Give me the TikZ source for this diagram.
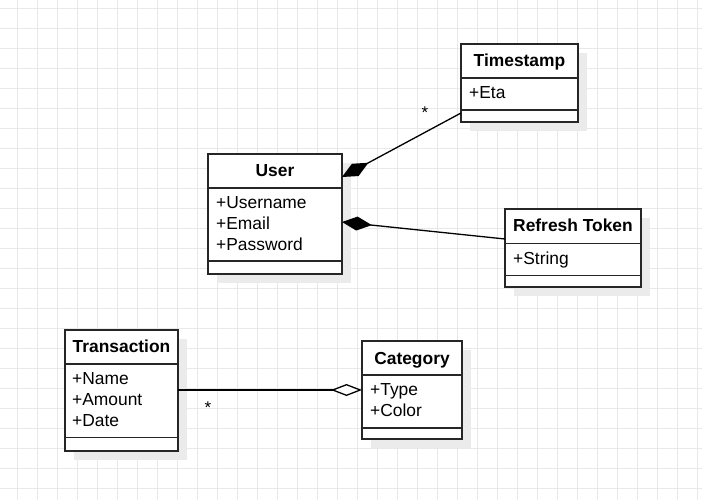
\documentclass[tikz,border=0pt]{standalone}
\usepackage{fontspec}
\setmainfont{Liberation Sans}
\usetikzlibrary{arrows.meta,shadows,calc}
\begin{document}
\begin{tikzpicture}[x=1pt,y=-1pt,
  gridline/.style={draw=black!9, line width=0.9pt},
  classbox/.style={draw=black!85, line width=1.5pt, fill=white, anchor=north west, inner sep=0pt, outer sep=0pt,
    drop shadow={shadow xshift=9pt, shadow yshift=-9pt, fill=black!8, opacity=1}},
  ctitle/.style={font=\fontsize{17.4}{20}\selectfont\bfseries, anchor=base, inner sep=0pt},
  cattr/.style={font=\fontsize{17.4}{20}\selectfont, anchor=base west, inner sep=0pt},
  csep/.style={line width=1.5pt, draw=black!85},
  conn/.style={line width=1.3pt, draw=black},
  mult/.style={font=\fontsize{17}{20}\selectfont, anchor=base, inner sep=0pt},
]
\useasboundingbox (0,0) rectangle (702,500);
\fill[white] (0,0) rectangle (702,500);
\foreach \x in {17,37,...,697} \draw[gridline] (\x,0) -- (\x,500);
\foreach \y in {8,28,...,488} \draw[gridline] (0,\y) -- (702,\y);

% User
\node[classbox, minimum width=134pt, minimum height=120pt] (user) at (208,154) {};
\draw[csep] (user.west |- 0,188) -- (user.east |- 0,188);
\draw[csep] (user.west |- 0,261) -- (user.east |- 0,261);
\node[ctitle] (usert) at (275,177) {User};
\node[cattr] (usera1) at (216,208.5) {+Username};
\node[cattr] (usera2) at (216,229.3) {+Email};
\node[cattr] (usera3) at (216,250) {+Password};

% Timestamp
\node[classbox, minimum width=117pt, minimum height=78pt] (ts) at (461,44) {};
\draw[csep] (ts.west |- 0,78) -- (ts.east |- 0,78);
\draw[csep] (ts.west |- 0,110) -- (ts.east |- 0,110);
\node[ctitle] (tst) at (519.5,67) {Timestamp};
\node[cattr] (tsa1) at (469,98.3) {+Eta};

% Refresh Token
\node[classbox, minimum width=136pt, minimum height=78pt] (rt) at (505,209) {};
\draw[csep] (rt.west |- 0,243.5) -- (rt.east |- 0,243.5);
\draw[csep] (rt.west |- 0,275.5) -- (rt.east |- 0,275.5);
\node[ctitle] (rtt) at (573,231.7) {Refresh Token};
\node[cattr] (rta1) at (513,264) {+String};

% Transaction
\node[classbox, minimum width=113pt, minimum height=121pt] (tx) at (65,330) {};
\draw[csep] (tx.west |- 0,364) -- (tx.east |- 0,364);
\draw[csep] (tx.west |- 0,437.5) -- (tx.east |- 0,437.5);
\node[ctitle] (txt) at (121.5,352.7) {Transaction};
\node[cattr] (txa1) at (72,384.3) {+Name};
\node[cattr] (txa2) at (72,405.3) {+Amount};
\node[cattr] (txa3) at (72,426) {+Date};

% Category
\node[classbox, minimum width=100pt, minimum height=98pt] (cat) at (362,341) {};
\draw[csep] (cat.west |- 0,375) -- (cat.east |- 0,375);
\draw[csep] (cat.west |- 0,428) -- (cat.east |- 0,428);
\node[ctitle] (catt) at (412,364.7) {Category};
\node[cattr] (cata1) at (370,395.7) {+Type};
\node[cattr] (cata2) at (370,416) {+Color};

% Connectors
\draw[conn, -{Diamond[length=30pt,width=14pt]}] (ts.west |- 0,113) -- (user.east |- 0,177);
\draw[conn, -{Diamond[length=30pt,width=14pt]}] (rt.west |- 0,239) -- (user.east |- 0,222);
\draw[conn, -{Diamond[fill=white,length=31pt,width=12pt]}] (tx.east |- 0,390) -- (cat.west |- 0,390);

\node[mult] (m1) at (425,119) {*};
\node[mult] (m2) at (208,413) {*};
\end{tikzpicture}
\end{document}
